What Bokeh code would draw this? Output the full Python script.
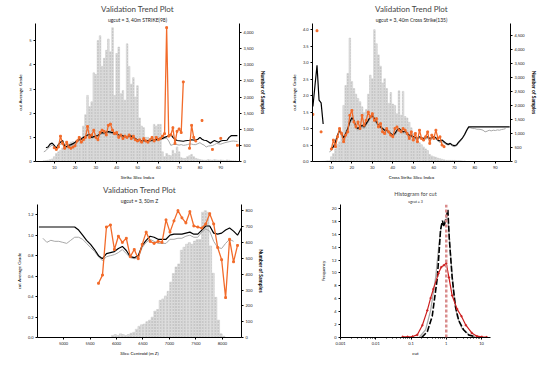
from bokeh.plotting import figure
from bokeh.models import (Range1d, LinearAxis, Title, FixedTicker, NumeralTickFormatter,
                          CustomJSTickFormatter, Span)
from bokeh.layouts import column, row
from bokeh.embed import file_html
from bokeh.resources import INLINE

nan = float("nan")
FONT = "Lato"
ORANGE = "#F26B2A"
GREY = "#A8A8A8"

# ---------------- Panel 1 : Strike slices ----------------
strike_idx = list(range(1, 99))
strike_counts = [0, 0, 0, 0, 20, 30, 40, 60, 80, 150,
                 250, 300, 350, 420, 500, 480, 550, 600, 620, 580,
                 650, 700, 750, 1100, 1450, 2050, 1700, 1850, 2750, 2700,
                 3750, 3900, 2950, 3200, 3450, 3800, 3400, 4150, 2050, 3350,
                 3550, 2100, 2200, 1900, 3650, 2950, 2400, 2600, 2000, 2350,
                 1350, 1100, 1050, 750, 750, 700, 750, 1150, 1100, 1150,
                 1150, 300, 150, 250, 200, 180, 350, 250, 450, 300,
                 120, 100, 100, 150, 180, 220, 150, 100, 80, 60,
                 50, 40, 40, 60, 50, 40, 60, 50, 40, 50,
                 40, 30, 50, 40, 30, 20, 20, 10]
strike_model = [nan, nan, nan, nan, nan, 0.57, 0.60, 0.72, 0.76, 0.67,
                0.55, 0.70, 0.80, 0.87, 0.63, 0.62, 0.67, 0.70, 0.74, 0.80,
                0.87, 0.90, 0.93, 1.00, 1.05, 1.10, 1.13, 1.00, 1.03, 1.05,
                1.08, 1.15, 1.20, 1.18, 1.22, 1.24, 1.22, 1.20, 1.17, 1.15,
                1.10, 1.08, 1.06, 1.03, 1.03, 1.05, 1.06, 1.00, 0.95, 0.89,
                0.87, 0.86, 0.86, 0.87, 0.87, 0.86, 0.88, 0.90, 0.91, 0.93,
                0.95, 0.96, 1.00, 1.03, 1.08, 1.13, 1.00, 0.92, 0.87, 0.86,
                0.85, 0.84, 0.86, 0.87, 0.88, 0.90, 0.89, 0.89, 0.92, 1.00,
                0.92, 0.88, 0.87, 0.82, 0.76, 0.82, 0.87, 0.83, 0.80, 0.85,
                0.87, 0.87, 0.88, 1.00, 1.07, 1.07, 1.07, 1.07]
strike_model2 = [nan, nan, nan, nan, 0.40, 0.45, 0.55, 0.62, 0.68, 0.60,
                 0.50, 0.62, 0.72, 0.80, 0.58, 0.57, 0.62, 0.66, 0.70, 0.76,
                 0.83, 0.86, 0.90, 0.96, 1.00, 1.05, 1.08, 0.96, 0.99, 1.01,
                 1.04, 1.10, 1.15, 1.13, 1.17, 1.19, 1.17, 1.15, 1.12, 1.10,
                 1.05, 1.03, 1.01, 0.98, 0.98, 1.00, 1.01, 0.95, 0.90, 0.85,
                 0.83, 0.82, 0.82, 0.83, 0.83, 0.82, 0.84, 0.86, 0.87, 0.89,
                 0.91, 0.92, 0.96, 0.97, 0.85, 0.67, 0.70, 0.72, 0.70, 0.68,
                 0.70, 0.67, 0.68, 0.70, 0.73, 0.72, 0.70, 0.70, 0.74, 0.78,
                 0.72, 0.68, 0.60, 0.64, 0.65, 0.66, 0.70, 0.75, 0.73, 0.72,
                 0.75, 0.78, 0.80, 0.82, 0.84, 0.85, 0.84, 0.83]
strike_actual = [nan, nan, nan, nan, nan, nan, nan, nan, nan, 0.57,
                 0.50, 0.60, 1.05, 0.75, 0.55, 0.80, 0.60, 0.55, 0.60, 0.65,
                 0.85, 1.00, 0.80, 0.90, 1.00, 1.45, 1.00, 1.10, 1.30, 1.00,
                 0.90, 1.20, 1.30, 1.25, 1.10, 1.50, 1.55, 1.30, 1.15, 1.20,
                 1.00, 1.10, 0.95, 1.05, 1.00, 1.10, 0.95, 1.05, 0.90, 0.85,
                 0.90, 0.80, 0.95, 0.85, 0.80, 0.90, 1.00, 0.85, 1.00, 0.90,
                 0.95, 1.05, 1.15, 5.55, 1.05, 1.10, 1.40, 0.75, 1.25, 1.35,
                 1.20, 3.30, nan, nan, 0.55, 1.50, 1.00, 0.85, nan, nan,
                 1.70, nan, nan, nan, nan, 0.50, nan, nan, nan, 0.96,
                 nan, nan, nan, nan, nan, nan, nan, 0.67]

# ---------------- Panel 2 : Cross strike slices ----------------
cross_idx = list(range(1, 98))
cross_counts = [0, 0, 0, 0, 10, 15, 20, 25, 30, 170,
                280, 450, 615, 700, 950, 2000, 2710, 3140, 4400, 2850,
                2600, 2400, 2250, 2130, 1950, 1740, 1850, 2400, 3080, 2950,
                4700, 4200, 3800, 3400, 2800, 2950, 2600, 2070, 2460, 2050,
                2000, 1700, 2520, 1650, 2500, 1600, 1550, 1400, 1200, 1000,
                840, 700, 670, 600, 520, 450, 390, 250, 200, 170,
                150, 120, 100, 80, 60, 40, 40, 40, 40, 40,
                30, 30, 30, 20, 20, 0, 0, 0, 0, 0,
                0, 0, 0, 0, 0, 0, 0, 0, 0, 0,
                0, 0, 0, 0, 0, 0, 0]
cross_model = [1.67, 2.30, 2.92, 1.86, 1.78, 1.14, nan, nan, nan, 0.38,
               0.45, 0.60, 0.80, 0.95, 0.85, 0.72, 0.85, 1.00, 1.20, 1.33,
               1.25, 1.05, 1.00, 1.05, 1.10, 1.05, 1.15, 1.25, 1.35, 1.40,
               1.30, 1.20, 1.10, 1.05, 1.00, 0.95, 0.95, 0.90, 0.85, 0.80,
               0.85, 0.95, 1.00, 0.95, 0.90, 0.92, 0.85, 0.80, 0.78, 0.76,
               0.72, 0.70, 0.75, 0.72, 0.70, 0.72, 0.75, 0.70, 0.72, 0.76,
               0.72, 0.65, 0.62, 0.65, 0.60, 0.55, 0.52, 0.55, 0.50, 0.48,
               0.50, 0.58, 0.65, 0.72, 0.82, 0.95, 1.05, 1.05, 1.05, 1.05,
               1.05, 1.05, 1.05, 1.05, 1.05, 1.05, 1.05, 1.05, 1.05, 1.05,
               1.05, 1.05, 1.05, 1.05, 1.05, 1.05, 1.05]
cross_model2 = [nan, nan, nan, nan, nan, nan, nan, nan, 0.29, 0.33,
                0.42, 0.55, 0.75, 0.90, 0.80, 0.68, 0.80, 0.95, 1.15, 1.28,
                1.20, 1.00, 0.95, 1.00, 1.05, 1.00, 1.10, 1.20, 1.30, 1.35,
                1.25, 1.15, 1.05, 1.00, 0.95, 0.90, 0.90, 0.85, 0.80, 0.76,
                0.80, 0.90, 0.95, 0.90, 0.86, 0.88, 0.80, 0.76, 0.74, 0.72,
                0.68, 0.66, 0.70, 0.68, 0.66, 0.68, 0.70, 0.66, 0.68, 0.72,
                0.68, 0.62, 0.58, 0.60, 0.56, 0.52, 0.50, 0.52, 0.47, 0.45,
                0.47, 0.55, 0.62, 0.70, 0.80, 0.92, 1.03, 1.02, 1.00, 1.00,
                0.98, 0.98, 0.97, 0.95, 0.90, 0.92, 0.95, 0.93, 0.95, 0.94,
                0.96, 0.95, 0.97, 0.98, 1.00, nan, nan]
cross_actual = [1.43, nan, 3.97, nan, 0.90, nan, nan, nan, nan, 0.38,
                0.65, 0.45, 0.75, 1.00, 0.85, 0.60, 0.80, 0.90, 1.40, 1.55,
                1.20, 1.05, 1.20, 1.00, 1.40, 1.10, 1.25, 1.50, 1.35, 1.45,
                1.25, 1.30, 1.05, 1.15, 0.90, 0.85, 1.00, 0.90, 0.80, 0.75,
                1.00, 1.05, 0.95, 0.90, 1.00, 0.95, 0.85, 0.70, 0.90, 0.65,
                0.85, 0.60, 0.95, 0.70, 0.65, 0.75, 0.90, 0.55, 0.80, 0.70,
                0.95, 0.70, 0.75, 0.50, 0.45] + [nan] * 32

# ---------------- Panel 3 : Z slices ----------------
z_line = list(range(4535, 8361, 75))
z_model = [1.08, 1.08, 1.08, 1.08, 1.08, 1.08, 1.08, 1.08, 1.08, 1.08,
           1.05, 1.00, 0.95, 0.91, 0.86, 0.80, 0.77, 0.82, 0.83, 0.84,
           0.87, 0.89, 0.85, 0.79, 0.78, 0.80, 0.90, 0.95, 0.99, 0.98,
           0.96, 0.96, 0.96, 1.00, 1.01, 1.01, 1.01, 1.02, 1.03, 1.01,
           1.01, 1.05, 1.09, 1.09, 1.02, 1.01, 1.02, 1.05, 1.07, 1.04,
           1.00, 1.07]
z_model2 = [nan, 0.97, 0.93, 0.95, 0.94, 0.94, 0.93, 0.92, 0.95, 0.98,
            0.98, 0.96, 0.92, 0.88, 0.84, 0.79, 0.75, 0.79, 0.80, 0.81,
            0.83, 0.86, 0.82, 0.78, 0.77, 0.78, 0.88, 0.93, 0.96, 0.94,
            0.92, 0.92, 0.92, 0.96, 0.96, 0.97, 0.97, 0.99, 1.00, 0.98,
            0.98, 1.03, 1.06, 1.04, 0.94, 0.88, 0.87, 0.92, 0.96, 0.94,
            nan, nan]
z_actual = [nan] * 15 + [0.53, 0.61, 1.08, 1.10, 0.86, 0.99, 0.93, 0.97, 0.79, 0.86,
                         0.77, 0.91, 1.03, 0.94, 0.92, 0.94, 0.93, 1.15, 1.03, 1.14,
                         1.24, 1.17, 1.12, 1.23, 1.09, 1.08, 1.07, 1.11, 1.21, 1.11,
                         0.88, 0.76, 0.39, 0.96, 0.74, 0.90] + [nan]
z_bins = list(range(5925, 8026, 50))
z_counts = [13, 19, 13, 23, 19, 13, 19, 27, 33, 52,
            71, 81, 85, 100, 110, 129, 167, 177, 235, 244,
            263, 292, 350, 404, 446, 465, 552, 571, 590, 600,
            590, 610, 619, 619, 792, 802, 792, 579, 406, 254,
            110, 23, 8]

# ---------------- Panel 4 : Histogram for cut ----------------
hist_model_x = [0.2, 0.29, 0.4, 0.56, 0.69, 0.78, 0.86, 1.0, 1.11, 1.22, 1.47, 1.83, 2.27, 3.1, 4.3, 6.6]
hist_model_y = [0, 0.9, 3.3, 9.3, 16.7, 18.1, 17.2, 18.6, 19.8, 15.3, 9.3, 4.7, 2.6, 1.2, 0.4, 0.1]
hist_model2_x = [0.17, 0.26, 0.36, 0.5, 0.62, 0.74, 0.86, 1.0, 1.13, 1.32, 1.64, 2.03, 2.8, 4.3, 6.6]
hist_model2_y = [0, 1.2, 4.2, 9.3, 14.4, 17.7, 17.2, 18.4, 18.1, 13.0, 6.5, 3.3, 1.4, 0.5, 0.1]
hist_data_x = [0.058, 0.08, 0.11, 0.15, 0.21, 0.29, 0.36, 0.43, 0.6, 0.72, 0.86, 1.0, 1.19,
               1.47, 2.03, 2.7, 3.6, 5.3, 7.4, 10.2, 14]
hist_data_y = [0.1, 0.1, 0.15, 0.4, 1.9, 4.2, 6.1, 7.5, 9.9, 10.9, 11.2, 11.5, 9.3,
               6.5, 4.4, 3.3, 1.9, 0.7, 0.2, 0.1, 0.05]
hist_cut_value = 1.0


def base_fig(w, h, xr, yr, mb, x_axis_type="linear"):
    p = figure(width=w, height=h, x_range=xr, y_range=yr, output_backend="svg",
               toolbar_location=None, x_axis_type=x_axis_type, title=None,
               min_border_left=mb[0], min_border_right=mb[1],
               min_border_top=mb[2], min_border_bottom=mb[3])
    p.outline_line_color = None
    p.xgrid.visible = False
    p.ygrid.visible = False
    p.background_fill_color = "white"
    p.border_fill_color = "white"
    return p


def style_axis(ax, label_size="4.5px", tick_size="4px", bold=False):
    ax.axis_label_text_font = FONT
    ax.axis_label_text_font_size = label_size
    ax.axis_label_text_font_style = "bold" if bold else "normal"
    ax.axis_label_text_color = "black"
    ax.major_label_text_font = FONT
    ax.major_label_text_font_size = tick_size
    ax.major_label_text_color = "#222222"
    ax.axis_line_color = "black"
    ax.axis_line_width = 1
    ax.major_tick_in = 0
    ax.major_tick_out = 2
    ax.major_tick_line_color = "black"
    ax.minor_tick_in = 0
    ax.minor_tick_out = 0
    ax.axis_label_standoff = 3
    ax.major_label_standoff = 2


def add_titles(p, main, sub, main_size="8px", sub_size="5px"):
    t_sub = Title(text=sub, align="center", text_font=FONT, text_font_size=sub_size,
                  text_font_style="normal", text_color="#222222")
    t_main = Title(text=main, align="center", text_font=FONT, text_font_size=main_size,
                   text_font_style="normal", text_color="#454545")
    for t in (t_sub, t_main):
        if "standoff" in t.properties():
            t.standoff = 1
    p.add_layout(t_sub, "above")
    p.add_layout(t_main, "above")


def bars(p, x, top, width):
    p.vbar(x=x, top=top, width=width, y_range_name="n", fill_color="#DEDEDE",
           line_color="#C8C8C8", line_width=0.5, hatch_pattern="dot",
           hatch_color="#A4A4A4", hatch_scale=3, hatch_weight=0.5)


def trend_panel(w, h, mb, xr, yr, nr, xticks, yticks, nticks, yfmt, xlabel, sub,
                xs, counts, bw, lx, model, model2, actual, bars_x=None):
    p = base_fig(w, h, Range1d(*xr), Range1d(*yr), mb)
    p.extra_y_ranges = {"n": Range1d(*nr)}
    bars(p, bars_x if bars_x is not None else xs, counts, bw)
    p.line(lx, model2, color=GREY, line_width=1)
    p.line(lx, model, color="black", line_width=1.2)
    p.line(lx, actual, color=ORANGE, line_width=1.3)
    p.scatter(lx, actual, marker="square", size=1.8, color=ORANGE)
    p.xaxis.ticker = FixedTicker(ticks=xticks)
    p.xaxis.axis_label = xlabel
    p.yaxis.ticker = FixedTicker(ticks=yticks)
    p.yaxis.formatter = NumeralTickFormatter(format=yfmt)
    p.yaxis.axis_label = "cut Average Grade"
    rax = LinearAxis(y_range_name="n", axis_label="Number of Samples",
                     ticker=FixedTicker(ticks=nticks),
                     formatter=NumeralTickFormatter(format="0,0"))
    p.add_layout(rax, "right")
    style_axis(p.xaxis[0])
    style_axis(p.yaxis[0])
    style_axis(rax, label_size="5px", bold=True)
    add_titles(p, "Validation Trend Plot", sub)
    return p


p1 = trend_panel(268, 182, (35, 28, 23, 16), (1, 99), (0, 5.72), (0, 4280),
                 list(range(10, 91, 10)), [0, 1, 2, 3, 4, 5], list(range(0, 4001, 500)), "0",
                 "Strike Slice Index", "ugcut = 3, 40m STRIKE(98)",
                 strike_idx, strike_counts, 0.8, strike_idx,
                 strike_model, strike_model2, strike_actual)

p2 = trend_panel(271, 182, (44, 23, 20, 16), (0.8, 97.4), (0, 4.19), (0, 4920),
                 list(range(10, 91, 10)), [0, 0.5, 1, 1.5, 2, 2.5, 3, 3.5, 4],
                 list(range(0, 4501, 500)), "0.0",
                 "Cross Strike Slice Index", "ugcut = 3, 40m Cross Strike(135)",
                 cross_idx, cross_counts, 0.8, cross_idx,
                 cross_model, cross_model2, cross_actual)

p3 = trend_panel(268, 176, (37, 27, 20, 16), (4508, 8360), (0, 1.30), (0, 841),
                 list(range(5000, 8001, 500)), [0, 0.2, 0.4, 0.6, 0.8, 1.0, 1.2],
                 list(range(0, 801, 100)), "0.0",
                 "Slice Centroid (m Z)", "ugcut = 3, 50m Z",
                 z_bins, z_counts, 42, z_line,
                 z_model, z_model2, z_actual, bars_x=z_bins)

# Panel 4
p4 = base_fig(271, 176, Range1d(0.001, 18), Range1d(0, 20.6), (72, 49, 22, 14), x_axis_type="log")
p4.add_layout(Span(location=hist_cut_value, dimension="height", line_color="#D98C8C",
                   line_dash="3 2", line_width=2.5))
p4.line(hist_model2_x, hist_model2_y, color=GREY, line_width=1.2)
p4.line(hist_model_x, hist_model_y, color="black", line_width=1.6, line_dash="6 2")
p4.line(hist_data_x, hist_data_y, color="#CC1F1F", line_width=1.2)
p4.scatter(hist_data_x, hist_data_y, marker="cross", size=2.5, color="#CC1F1F", line_width=1)
minor = [m * 10.0 ** e for e in range(-3, 2) for m in range(2, 10)]
p4.xaxis.ticker = FixedTicker(ticks=[0.001, 0.01, 0.1, 1, 10], minor_ticks=minor)
p4.xaxis.formatter = CustomJSTickFormatter(code="return String(parseFloat(tick.toPrecision(6)));")
p4.xaxis.axis_label = "cut"
p4.yaxis.ticker = FixedTicker(ticks=list(range(0, 21, 2)))
p4.yaxis.axis_label = "Frequency"
style_axis(p4.xaxis[0])
style_axis(p4.yaxis[0])
p4.xaxis[0].minor_tick_out = 1
add_titles(p4, "Histogram for cut", "ugcut = 3", main_size="5.5px", sub_size="3.5px")

layout = column(row(p1, p2), row(p3, p4))
open("out.html", "w").write(file_html(layout, INLINE))
